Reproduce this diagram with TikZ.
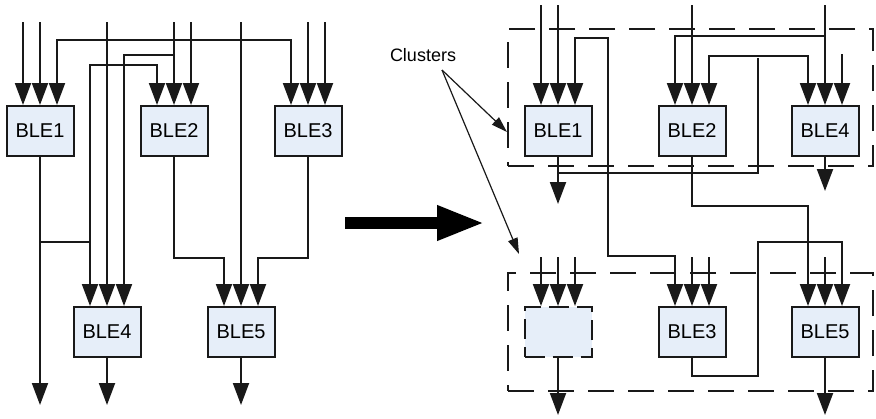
\documentclass[tikz,border=0pt]{standalone}
\usepackage{fontspec}
\setmainfont{Liberation Sans}
\usetikzlibrary{arrows.meta}
\definecolor{blefill}{RGB}{230,238,249}
\definecolor{wirecol}{RGB}{25,25,25}

\tikzset{
  ble/.style={draw=wirecol, fill=blefill, line width=1pt, minimum width=33.5pt, minimum height=25pt, inner sep=0pt, font=\fontsize{10}{11}\selectfont},
  wire/.style={draw=wirecol, line width=1pt},
  cluster/.style={draw=wirecol, line width=1pt, dash pattern=on 13pt off 7pt},
  pointer/.style={draw=wirecol, line width=0.6pt, -{Triangle[length=8pt,width=5pt]}}
}

\begin{document}
\begin{tikzpicture}[x=0.5pt, y=-0.5pt, >={Triangle[length=11pt,width=8pt]}]
\useasboundingbox (0,0) rectangle (876,418);

% clusters
\node[cluster, minimum width=182.5pt, minimum height=68.5pt] (tc) at (690.5,97.5) {};
\node[cluster, minimum width=182.5pt, minimum height=59pt] (bc) at (690.5,332) {};

% before packing
\node[ble] (l1) at (40,131) {BLE1};
\node[ble] (l2) at (174,131) {BLE2};
\node[ble] (l3) at (308,131) {BLE3};
\node[ble] (l4) at (107,332) {BLE4};
\node[ble] (l5) at (241,332) {BLE5};

% after packing
\node[ble] (r1) at (558,131) {BLE1};
\node[ble] (r2) at (692,131) {BLE2};
\node[ble] (r4) at (825,131) {BLE4};
\node[ble, dash pattern=on 10pt off 4pt] (r0) at (558,332) {};
\node[ble] (r3) at (692,332) {BLE3};
\node[ble] (r5) at (825,332) {BLE5};

\foreach \b in {l1,l2,l3,l4,l5,r0,r1,r2,r3,r4,r5} {
  \coordinate (\b-1) at ([xshift=-8.5pt]\b.north);
  \coordinate (\b-2) at (\b.north);
  \coordinate (\b-3) at ([xshift=8.5pt]\b.north);
}

\coordinate (ltop) at (0,22);
\coordinate (lbot) at (0,405);
\coordinate (rtop) at (0,5);
\coordinate (rmid) at (0,257);
\coordinate (rbot) at (0,415);

% left wires
\foreach \p in {l1-1,l1-2,l2-2,l2-3,l3-2,l3-3,l4-2,l5-2}
  \draw[wire,->] (\p |- ltop) -- (\p);
\draw[wire,<->] (l1-3) -- ++(0,-65) -| (l3-1);
\draw[wire,->] (l2-2) ++(0,-50) -| (l4-3);
\draw[wire,<->] (l4-1) -- ++(0,-241) -| (l2-1);
\draw[wire,->] (l1.south) -- (l1.south |- lbot);
\draw[wire] (l1.south) ++(0,85) -- ++(50,0);
\draw[wire,->] (l2.south) -- ++(0,101) -| (l5-1);
\draw[wire,->] (l3.south) -- ++(0,101) -| (l5-3);
\draw[wire,->] (l4.south) -- (l4.south |- lbot);
\draw[wire,->] (l5.south) -- (l5.south |- lbot);

% right wires
\foreach \p in {r1-1,r1-2,r2-2,r4-2}
  \draw[wire,->] (\p |- rtop) -- (\p);
\foreach \p in {r0-1,r0-2,r0-3,r3-2,r3-3,r5-2}
  \draw[wire,->] (\p |- rmid) -- (\p);
\draw[wire,->] (r4-3) ++(0,-51) -- (r4-3);
\draw[wire,<->] (r1-3) -- ++(0,-67) -| ++(33,218) -| (r3-1);
\draw[wire,->] (r4-2) ++(0,-69) -| (r2-1);
\draw[wire,<->] (r2-3) -- ++(0,-49) -| (r4-1);
\draw[wire,->] (r1.south) -- ++(0,47);
\draw[wire] (r1.south) ++(0,16) -| ++(200,-115);
\draw[wire,->] (r4.south) -- ++(0,34);
\draw[wire,->] (r2.south) -- ++(0,49) -| (r5-1);
\draw[wire,->] (r3.south) -- ++(0,18) -| ++(66,-134) -| (r5-3);
\draw[wire,->] (r0.south) -- (r0.south |- rbot);
\draw[wire,->] (r5.south) -- (r5.south |- rbot);

% label and big arrow
\node[font=\fontsize{9}{10}\selectfont] (cl) at (423,55) {Clusters};
\coordinate (clfoot) at (442,70);
\draw[pointer] (clfoot) -- ([yshift=-52pt]tc.north west);
\draw[pointer] (clfoot) -- ([shift={(6pt,9pt)}]bc.north west);

\coordinate (mapfrom) at (345,223);
\coordinate (mapto) at (485,223);
\draw[line width=6pt, -{Triangle[length=24pt,width=16pt]}] (mapfrom) -- (mapto);
\end{tikzpicture}
\end{document}
